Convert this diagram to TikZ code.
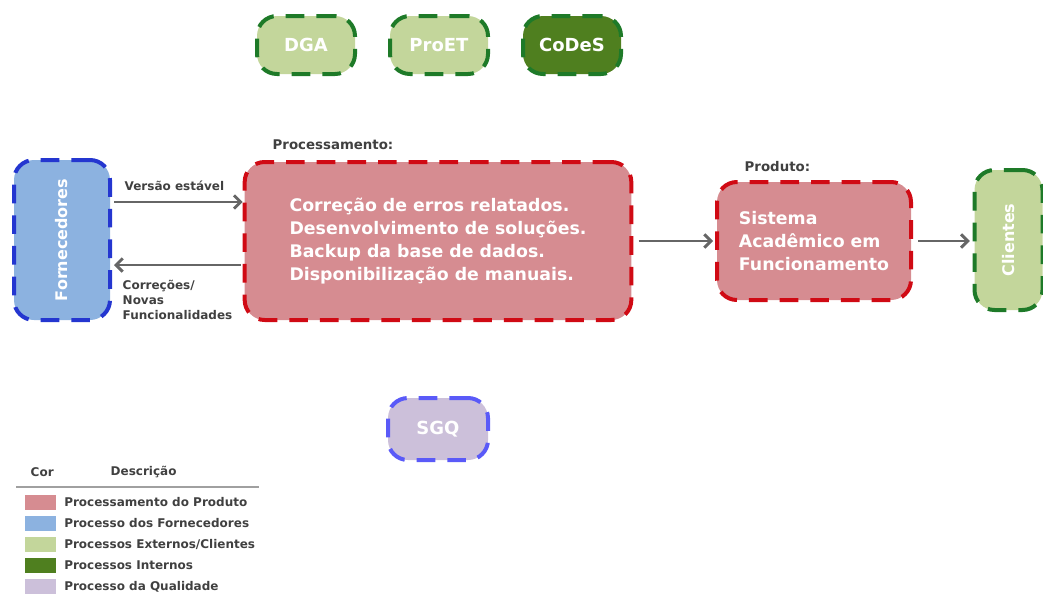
\documentclass[tikz,border=0pt]{standalone}
\usepackage{fontspec}
\setmainfont{DejaVu Sans}
\usetikzlibrary{arrows.meta,calc}

\definecolor{prodfill}{HTML}{D68C91}
\definecolor{proddash}{HTML}{D00A14}
\definecolor{fornfill}{HTML}{8CB2E0}
\definecolor{forndash}{HTML}{2436D0}
\definecolor{extfill}{HTML}{C3D69B}
\definecolor{extdash}{HTML}{1E7A28}
\definecolor{intfill}{HTML}{4F7F1F}
\definecolor{qualfill}{HTML}{CCC0DA}
\definecolor{qualdash}{HTML}{5A5AF8}
\definecolor{arrowgray}{HTML}{666666}
\definecolor{labelgray}{HTML}{404040}
\definecolor{rulegray}{HTML}{A0A0A0}

\tikzset{
  dashedbox/.style={rounded corners=15pt, line width=3pt,
    dash pattern=on 14pt off 9pt, inner sep=0pt, text=white},
  prodbox/.style={dashedbox, fill=prodfill, draw=proddash},
  fornbox/.style={dashedbox, fill=fornfill, draw=forndash},
  extbox/.style={dashedbox, fill=extfill, draw=extdash},
  intbox/.style={dashedbox, fill=intfill, draw=extdash},
  qualbox/.style={dashedbox, fill=qualfill, draw=qualdash},
  bigtxt/.style={font=\bfseries\fontsize{13}{17.3}\selectfont, align=left},
  tagtxt/.style={font=\bfseries\fontsize{13.5}{16}\selectfont},
  sidetxt/.style={font=\bfseries\fontsize{12}{14}\selectfont},
  smalllabel/.style={text=labelgray, font=\bfseries\fontsize{9}{11.5}\selectfont, align=left},
  headlabel/.style={text=labelgray, font=\bfseries\fontsize{10}{12}\selectfont},
  conn/.style={draw=arrowgray, line width=2.2pt,
    -{Straight Barb[length=5pt,width=10pt,line width=2.2pt]}},
  swatch/.style={minimum width=23.25pt, minimum height=11.25pt, inner sep=0pt},
  legendtxt/.style={text=labelgray, font=\bfseries\fontsize{9}{11}\selectfont, anchor=west, inner sep=0pt},
}

\begin{document}
\begin{tikzpicture}[x=0.75pt, y=-0.75pt]
  \useasboundingbox (0,0) rectangle (1043,593);

  % internal / external units along the top
  \node[extbox, tagtxt, minimum width=73.5pt, minimum height=43.5pt] (dga) at (306,45) {DGA};
  \node[extbox, tagtxt, minimum width=73.5pt, minimum height=43.5pt] (proet) at (439,45) {ProET};
  \node[intbox, tagtxt, minimum width=73.5pt, minimum height=43.5pt] (codes) at (572,45) {CoDeS};

  % suppliers
  \node[fornbox, sidetxt, minimum width=72pt, minimum height=120pt] (forn) at (62,240)
        {\rotatebox{90}{Fornecedores}};

  % processing
  \node[headlabel, anchor=west] (proclabel) at (268,145) {Processamento:};
  \node[prodbox, bigtxt, minimum width=290pt, minimum height=118.5pt] (proc) at (438,241)
        {Correção de erros relatados.\\Desenvolvimento de soluções.\\Backup da base de dados.\\Disponibilização de manuais.};

  % product
  \node[headlabel, anchor=west] (prodlabel) at (740,167) {Produto:};
  \node[prodbox, bigtxt, minimum width=145.5pt, minimum height=88.5pt,
        font=\bfseries\fontsize{13}{17.6}\selectfont] (prod) at (814,241)
        {Sistema\\Acadêmico em\\Funcionamento};

  % clients
  \node[extbox, sidetxt, minimum width=51pt, minimum height=105pt] (cli) at (1008.5,240)
        {\rotatebox{90}{Clientes}};

  % quality
  \node[qualbox, tagtxt, minimum width=75pt, minimum height=46.5pt] (sgq) at (438,429) {SGQ};

  % connectors
  \draw[conn] ([shift={(1.5pt,28.5pt)}]forn.east) -- ([yshift=28.5pt]forn.east -| proc.west);
  \draw[conn] ([shift={(-1.5pt,-18.75pt)}]forn.east -| proc.west) -- ([shift={(1.5pt,-18.75pt)}]forn.east);
  \draw[conn] ([xshift=4pt]proc.east) -- ([xshift=-1.5pt]prod.west);
  \draw[conn] ([xshift=4pt]prod.east) -- ([xshift=-2pt]prod.east -| cli.west);

  \node[smalllabel, anchor=west] (lblup) at (120,186) {Versão estável};
  \node[smalllabel, anchor=west] (lbldown) at (118,300) {Correções/\\Novas\\Funcionalidades};

  % legend
  \node[smalllabel, anchor=west] (legcor) at (26,472) {Cor};
  \node[smalllabel, anchor=west] (legdesc) at (106,472) {Descrição};
  \coordinate (rulea) at (16,487);
  \coordinate (ruleb) at (259,487);
  \draw[rulegray, line width=1.2pt] (rulea) -- (ruleb);

  \node[swatch, fill=prodfill]  (sw1) at (40.5,502.5) {};
  \node[swatch, fill=fornfill]  (sw2) at (40.5,523.5) {};
  \node[swatch, fill=extfill]   (sw3) at (40.5,544.5) {};
  \node[swatch, fill=intfill]   (sw4) at (40.5,565.5) {};
  \node[swatch, fill=qualfill]  (sw5) at (40.5,586.5) {};

  \node[legendtxt] (lg1) at (64,502.5) {Processamento do Produto};
  \node[legendtxt] (lg2) at (64,523.5) {Processo dos Fornecedores};
  \node[legendtxt] (lg3) at (64,544.5) {Processos Externos/Clientes};
  \node[legendtxt] (lg4) at (64,565.5) {Processos Internos};
  \node[legendtxt] (lg5) at (64,586.5) {Processo da Qualidade};
\end{tikzpicture}
\end{document}
